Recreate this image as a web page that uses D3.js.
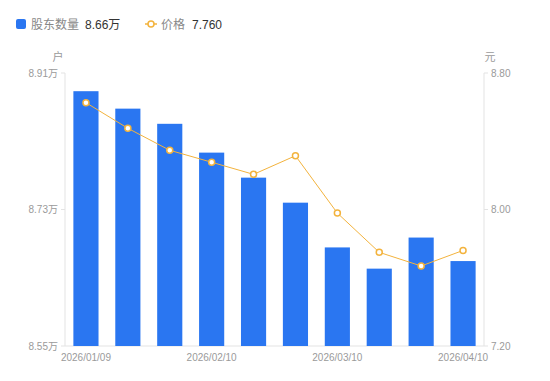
<!DOCTYPE html>
<html><head><meta charset="utf-8">
<script src="https://cdn.jsdelivr.net/npm/d3@7/dist/d3.min.js"></script>
<style>body{margin:0;background:#fff;} svg text{font-family:"Liberation Sans","Noto Sans CJK SC",sans-serif;}</style>
</head><body><svg id="c" width="550" height="381"></svg>
<script>
const dates = ["2026/01/09","2026/01/20","2026/01/31","2026/02/10","2026/02/20","2026/02/28","2026/03/10","2026/03/20","2026/03/31","2026/04/10"];
const holders = [8.886,8.863,8.843,8.805,8.772,8.739,8.680,8.652,8.693,8.662];
const prices = [8.626,8.476,8.347,8.277,8.206,8.315,7.979,7.749,7.669,7.760];
const leftTicks = [8.55,8.73,8.91];
const rightTicks = [7.20,8.00,8.80];
const shownLabels = ["2026/01/09","2026/02/10","2026/03/10","2026/04/10"];

const svg = d3.select("#c");
const L = 65, R = 484, T = 73, B = 346;
const x = d3.scaleBand().domain(dates).range([L, R]).paddingInner(0.4).paddingOuter(0.2);
const yL = d3.scaleLinear().domain([8.55, 8.91]).range([B, T]);
const yR = d3.scaleLinear().domain([7.20, 8.80]).range([B, T]);
const grey = "#e3e3e3", txt = "#9a9a9a";

svg.append("line").attr("x1",L).attr("x2",L).attr("y1",T).attr("y2",B).attr("stroke",grey);
svg.append("line").attr("x1",R).attr("x2",R).attr("y1",T).attr("y2",B).attr("stroke",grey);
svg.append("line").attr("x1",L).attr("x2",R).attr("y1",B).attr("y2",B).attr("stroke",grey);

svg.selectAll("rect.bar").data(dates).enter().append("rect")
  .attr("x", d => x(d)).attr("width", x.bandwidth())
  .attr("y", (d,i) => yL(holders[i])).attr("height", (d,i) => B - yL(holders[i]))
  .attr("fill", "#2a76f1");

const lg = svg.append("g");
leftTicks.forEach(t => {
  lg.append("line").attr("x1",L-4).attr("x2",L).attr("y1",yL(t)).attr("y2",yL(t)).attr("stroke",grey);
  lg.append("text").attr("x",L-7).attr("y",yL(t)).attr("dy","0.35em").attr("text-anchor","end")
    .attr("font-size",10).attr("fill",txt).text(t.toFixed(2)+"万");
});
rightTicks.forEach(t => {
  lg.append("line").attr("x1",R).attr("x2",R+4).attr("y1",yR(t)).attr("y2",yR(t)).attr("stroke",grey);
  lg.append("text").attr("x",R+7).attr("y",yR(t)).attr("dy","0.35em").attr("text-anchor","start")
    .attr("font-size",10).attr("fill",txt).text(t.toFixed(2));
});
svg.append("text").attr("x",58).attr("y",61).attr("text-anchor","middle").attr("font-size",11).attr("fill",txt).text("户");
svg.append("text").attr("x",490).attr("y",61).attr("text-anchor","middle").attr("font-size",11).attr("fill",txt).text("元");

shownLabels.forEach(d => {
  svg.append("text").attr("x", x(d)+x.bandwidth()/2).attr("y", 361).attr("text-anchor","middle")
    .attr("font-size",10).attr("fill",txt).text(d);
});

const line = d3.line().x((d,i) => x(dates[i])+x.bandwidth()/2).y(d => yR(d));
svg.append("path").datum(prices).attr("d", line).attr("fill","none").attr("stroke","#f3b33d").attr("stroke-width",1);
svg.selectAll("circle.pt").data(prices).enter().append("circle")
  .attr("cx", (d,i) => x(dates[i])+x.bandwidth()/2).attr("cy", d => yR(d)).attr("r",3)
  .attr("fill","#fff").attr("stroke","#f3b33d").attr("stroke-width",1.5);

svg.append("rect").attr("x",16).attr("y",19).attr("width",10).attr("height",10).attr("rx",2).attr("fill","#2a76f1");
svg.append("text").attr("x",31).attr("y",28.5).attr("font-size",12).attr("fill","#888").text("股东数量");
svg.append("text").attr("x",85).attr("y",28.5).attr("font-size",12).attr("fill","#333").text("8.66万");
svg.append("line").attr("x1",145).attr("x2",157).attr("y1",24).attr("y2",24).attr("stroke","#f3b33d").attr("stroke-width",1.5);
svg.append("circle").attr("cx",151).attr("cy",24).attr("r",3).attr("fill","#fff").attr("stroke","#f3b33d").attr("stroke-width",1.5);
svg.append("text").attr("x",161).attr("y",28.5).attr("font-size",12).attr("fill","#888").text("价格");
svg.append("text").attr("x",192).attr("y",28.5).attr("font-size",12).attr("fill","#333").text("7.760");
</script></body></html>
